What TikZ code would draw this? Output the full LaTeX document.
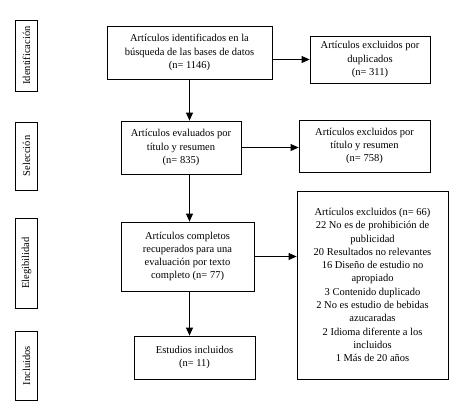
\documentclass[tikz,border=0pt]{standalone}
\usepackage{fontspec}
\setmainfont{Liberation Serif}
\usetikzlibrary{arrows.meta}
\begin{document}
\begin{tikzpicture}[x=1pt,y=-1pt,
  box/.style={draw,line width=0.8pt,align=center,inner sep=1pt,font=\fontsize{10.5}{13.3}\selectfont},
  side/.style={draw,line width=0.8pt,rotate=90,align=center,inner sep=0pt,font=\fontsize{10.5}{13}\selectfont},
  arr/.style={line width=0.8pt,-{Triangle[length=8pt,width=7pt]}}]
\useasboundingbox (0,0) rectangle (468,415);
\node[side,minimum width=71,minimum height=22] (l1) at (26.5,55.5) {Identificación};
\node[side,minimum width=68,minimum height=22] (l2) at (26.5,156) {Selección};
\node[side,minimum width=90,minimum height=22] (l3) at (26.5,263) {Elegibilidad};
\node[side,minimum width=69,minimum height=22] (l4) at (26.5,365.5) {Incluidos};
\node[box,minimum width=165,minimum height=53] (b1) at (189.5,52.5) {Artículos identificados en la\\búsqueda de las bases de datos\\(n= 1146)};
\node[box,minimum width=120,minimum height=53] (b2) at (181,147.5) {Artículos evaluados por\\título y resumen\\(n= 835)};
\node[box,minimum width=133,minimum height=69] (b3) at (187.5,256.5) {Artículos completos\\recuperados para una\\evaluación por texto\\completo (n= 77)};
\node[box,minimum width=121,minimum height=43] (b4) at (194.5,357.5) {Estudios incluidos\\(n= 11)};
\node[box,minimum width=120,minimum height=47] (r1) at (370,59.5) {Artículos excluidos por\\duplicados\\(n= 311)};
\node[box,minimum width=131,minimum height=52] (r2) at (364.5,146) {Artículos excluidos por\\título y resumen\\(n= 758)};
\node[box,minimum width=151,minimum height=188] (r3) at (372.5,285) {Artículos excluidos (n= 66)\\22 No es de prohibición de\\publicidad\\20 Resultados no relevantes\\16 Diseño de estudio no\\apropiado\\3 Contenido duplicado\\2 No es estudio de bebidas\\azucaradas\\2 Idioma diferente a los\\incluidos\\1 Más de 20 años};
\draw[arr] (b1.south) -- (b1.south |- b2.north);
\draw[arr] (b1.south |- b2.south) -- (b1.south |- b3.north);
\draw[arr] (b1.south |- b3.south) -- (b1.south |- b4.north);
\draw[arr] (r1.west -| b1.east) -- (r1.west);
\draw[arr] (b2.east) -- (b2.east -| r2.west);
\draw[arr] (b3.east) -- (b3.east -| r3.west);
\end{tikzpicture}
\end{document}
